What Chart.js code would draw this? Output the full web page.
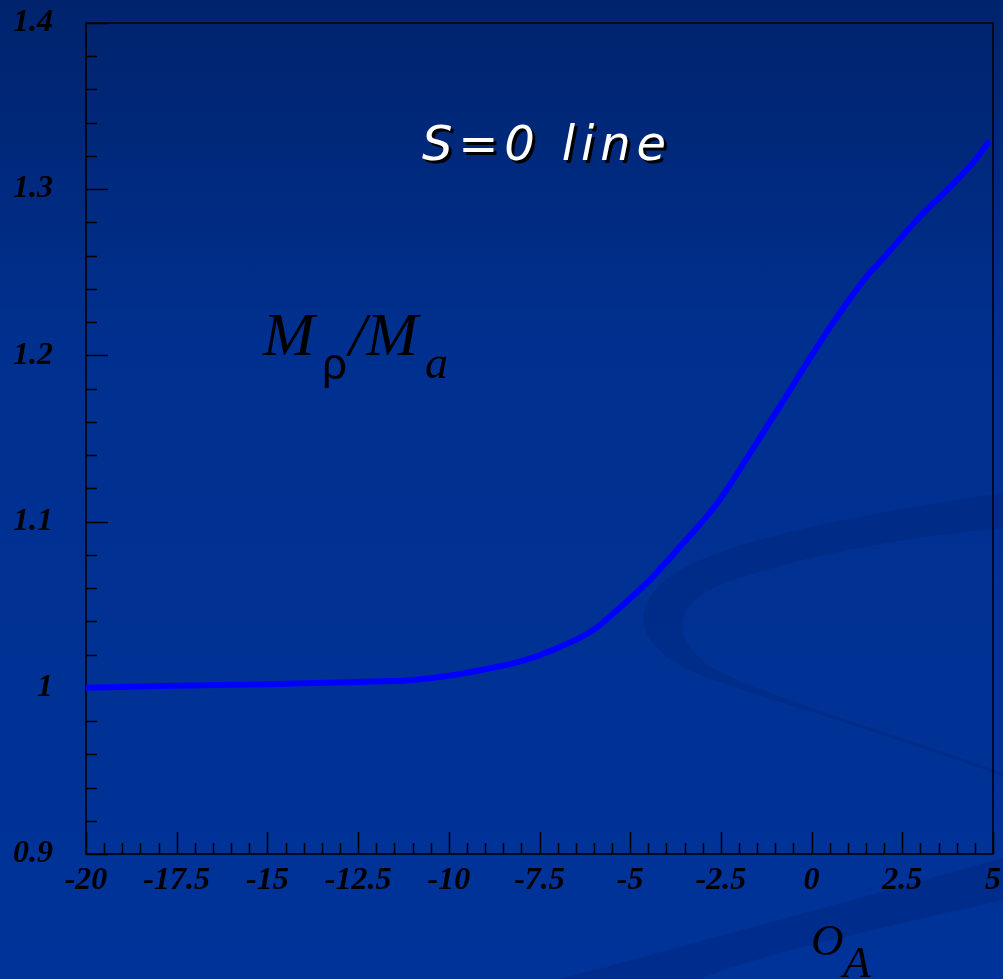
<!DOCTYPE html>
<html>
<head>
<meta charset="utf-8">
<script src="https://cdn.jsdelivr.net/npm/chart.js@4.4.1/dist/chart.umd.min.js"></script>
<style>
    html, body { margin: 0; padding: 0; width: 1003px; height: 979px; overflow: hidden; }
    body { position: relative; background: #00339a; }
    #bg, #chart { position: absolute; left: 0; top: 0; }
</style>
</head>
<body>
<svg id="bg" width="1003" height="979">
    <defs>
        <linearGradient id="bgGrad" x1="0" y1="0" x2="0" y2="1">
            <stop offset="0" stop-color="#00236c"/>
            <stop offset="0.35" stop-color="#00308f"/>
            <stop offset="1" stop-color="#003399"/>
        </linearGradient>
    </defs>
    <rect width="1003" height="979" fill="url(#bgGrad)"/>
    <!-- decorative swooshes -->
    <path d="M1003,493 C850,515 700,545 660,585 C630,615 640,650 700,675 C800,710 920,745 1003,777 L1003,773 C920,742 790,705 720,672 C670,645 670,605 720,585 C800,555 900,538 1003,528 Z" fill="#00257a" opacity="0.4"/>
    <path d="M560,979 C650,955 800,915 1003,858 L1003,900 C850,935 760,955 700,979 Z" fill="#00257a" opacity="0.4"/>
</svg>
<canvas id="chart" width="1003" height="979"></canvas>
<script>
// S=0 line, M_rho / M_a against O_A
const oA = [-20, -17.5, -15, -12.5, -11, -10, -9, -8, -7, -6, -5.3, -4.5, -3.5, -2.6, -1.7, -0.8, 0, 0.6, 1.5, 2.0, 2.9, 3.8, 4.45, 4.9];
const massRatio = [1.000, 1.0012, 1.0022, 1.0035, 1.0047, 1.0072, 1.0112, 1.016, 1.024, 1.035, 1.048, 1.064, 1.088, 1.111, 1.141, 1.172, 1.200, 1.220, 1.247, 1.259, 1.2815, 1.301, 1.316, 1.329];

const xTickValues = [-20, -17.5, -15, -12.5, -10, -7.5, -5, -2.5, 0, 2.5, 5];
const xTickLabels = ['-20', '-17.5', '-15', '-12.5', '-10', '-7.5', '-5', '-2.5', '0', '2.5', '5'];
const yTickValues = [0.9, 1, 1.1, 1.2, 1.3, 1.4];
const yTickLabels = ['0.9', '1', '1.1', '1.2', '1.3', '1.4'];

const tickFont = { family: '"Liberation Serif", "Times New Roman", serif', size: 32, style: 'italic', weight: 'bold' };

function majorIndex(values, v) {
    return values.findIndex(m => Math.abs(m - v) < 1e-6);
}

// inward ticks and the box round the plot
const frameTicks = {
    id: 'frameTicks',
    beforeDatasetsDraw(chart) {
        const { ctx, chartArea: a, scales: { x, y } } = chart;
        ctx.save();
        ctx.strokeStyle = '#000';
        ctx.lineWidth = 1.5;
        ctx.beginPath();
        x.ticks.forEach(t => {
            const px = Math.round(x.getPixelForValue(t.value)) + 0.5;
            const len = majorIndex(xTickValues, t.value) >= 0 ? 22 : 11;
            ctx.moveTo(px, a.bottom);
            ctx.lineTo(px, a.bottom - len);
        });
        y.ticks.forEach(t => {
            const py = Math.round(y.getPixelForValue(t.value)) + 0.5;
            const len = majorIndex(yTickValues, t.value) >= 0 ? 22 : 11;
            ctx.moveTo(a.left, py);
            ctx.lineTo(a.left + len, py);
        });
        ctx.stroke();
        ctx.strokeRect(a.left, a.top, a.right - a.left, a.bottom - a.top);
        ctx.restore();
    }
};

// title and axis names
const annotations = {
    id: 'annotations',
    afterDraw(chart) {
        const ctx = chart.ctx;
        ctx.save();

        // "S=0 line"
        const title = 'S=0 line';
        ctx.font = 'oblique 48px "DejaVu Sans", sans-serif';
        const natural = ctx.measureText(title).width;
        ctx.letterSpacing = Math.max(0, (244 - natural) / (title.length - 1)) + 'px';
        ctx.textBaseline = 'alphabetic';
        ctx.fillStyle = '#000';
        ctx.fillText(title, 425, 163);
        ctx.fillStyle = '#fff';
        ctx.fillText(title, 422, 160);
        ctx.letterSpacing = '0px';

        // M_rho / M_a
        ctx.fillStyle = '#000';
        ctx.font = 'italic 62px "Liberation Serif", serif';
        ctx.fillText('M', 263, 355);
        ctx.font = '44px "Liberation Sans", sans-serif';
        ctx.fillText('ρ', 322, 379);
        ctx.font = 'italic 62px "Liberation Serif", serif';
        ctx.fillText('/M', 349, 355);
        ctx.font = 'italic 46px "Liberation Serif", serif';
        ctx.fillText('a', 425, 378);

        // O_A
        ctx.font = 'italic 45px "Liberation Serif", serif';
        ctx.fillText('O', 811, 955);
        ctx.fillText('A', 843, 977);

        ctx.restore();
    }
};

new Chart(document.getElementById('chart'), {
    type: 'line',
    data: {
        datasets: [{
            data: oA.map((v, i) => ({ x: v, y: massRatio[i] })),
            borderColor: '#0000ff',
            borderWidth: 6,
            pointRadius: 0,
            cubicInterpolationMode: 'monotone',
            fill: false
        }]
    },
    options: {
        responsive: false,
        animation: false,
        devicePixelRatio: 1,
        layout: { padding: { top: 23, right: 10, left: 0, bottom: 0 } },
        plugins: { legend: { display: false }, tooltip: { enabled: false } },
        scales: {
            x: {
                type: 'linear',
                min: -20,
                max: 5,
                grid: { display: false, drawTicks: false },
                border: { display: false },
                afterFit(scale) {
                    scale.height = 125;
                    scale.paddingLeft = 0;
                    scale.paddingRight = 0;
                },
                ticks: {
                    stepSize: 0.5,
                    autoSkip: false,
                    maxRotation: 0,
                    padding: 8,
                    color: '#000',
                    font: tickFont,
                    callback(value) {
                        const i = majorIndex(xTickValues, value);
                        return i >= 0 ? xTickLabels[i] : '';
                    }
                }
            },
            y: {
                min: 0.9,
                max: 1.4,
                grid: { display: false, drawTicks: false },
                border: { display: false },
                afterFit(scale) {
                    scale.width = 86;
                    scale.paddingTop = 0;
                    scale.paddingBottom = 0;
                },
                ticks: {
                    stepSize: 0.02,
                    autoSkip: false,
                    padding: 33,
                    color: '#000',
                    font: tickFont,
                    callback(value) {
                        const i = majorIndex(yTickValues, value);
                        return i >= 0 ? yTickLabels[i] : '';
                    }
                }
            }
        }
    },
    plugins: [frameTicks, annotations]
});
</script>
</body>
</html>
